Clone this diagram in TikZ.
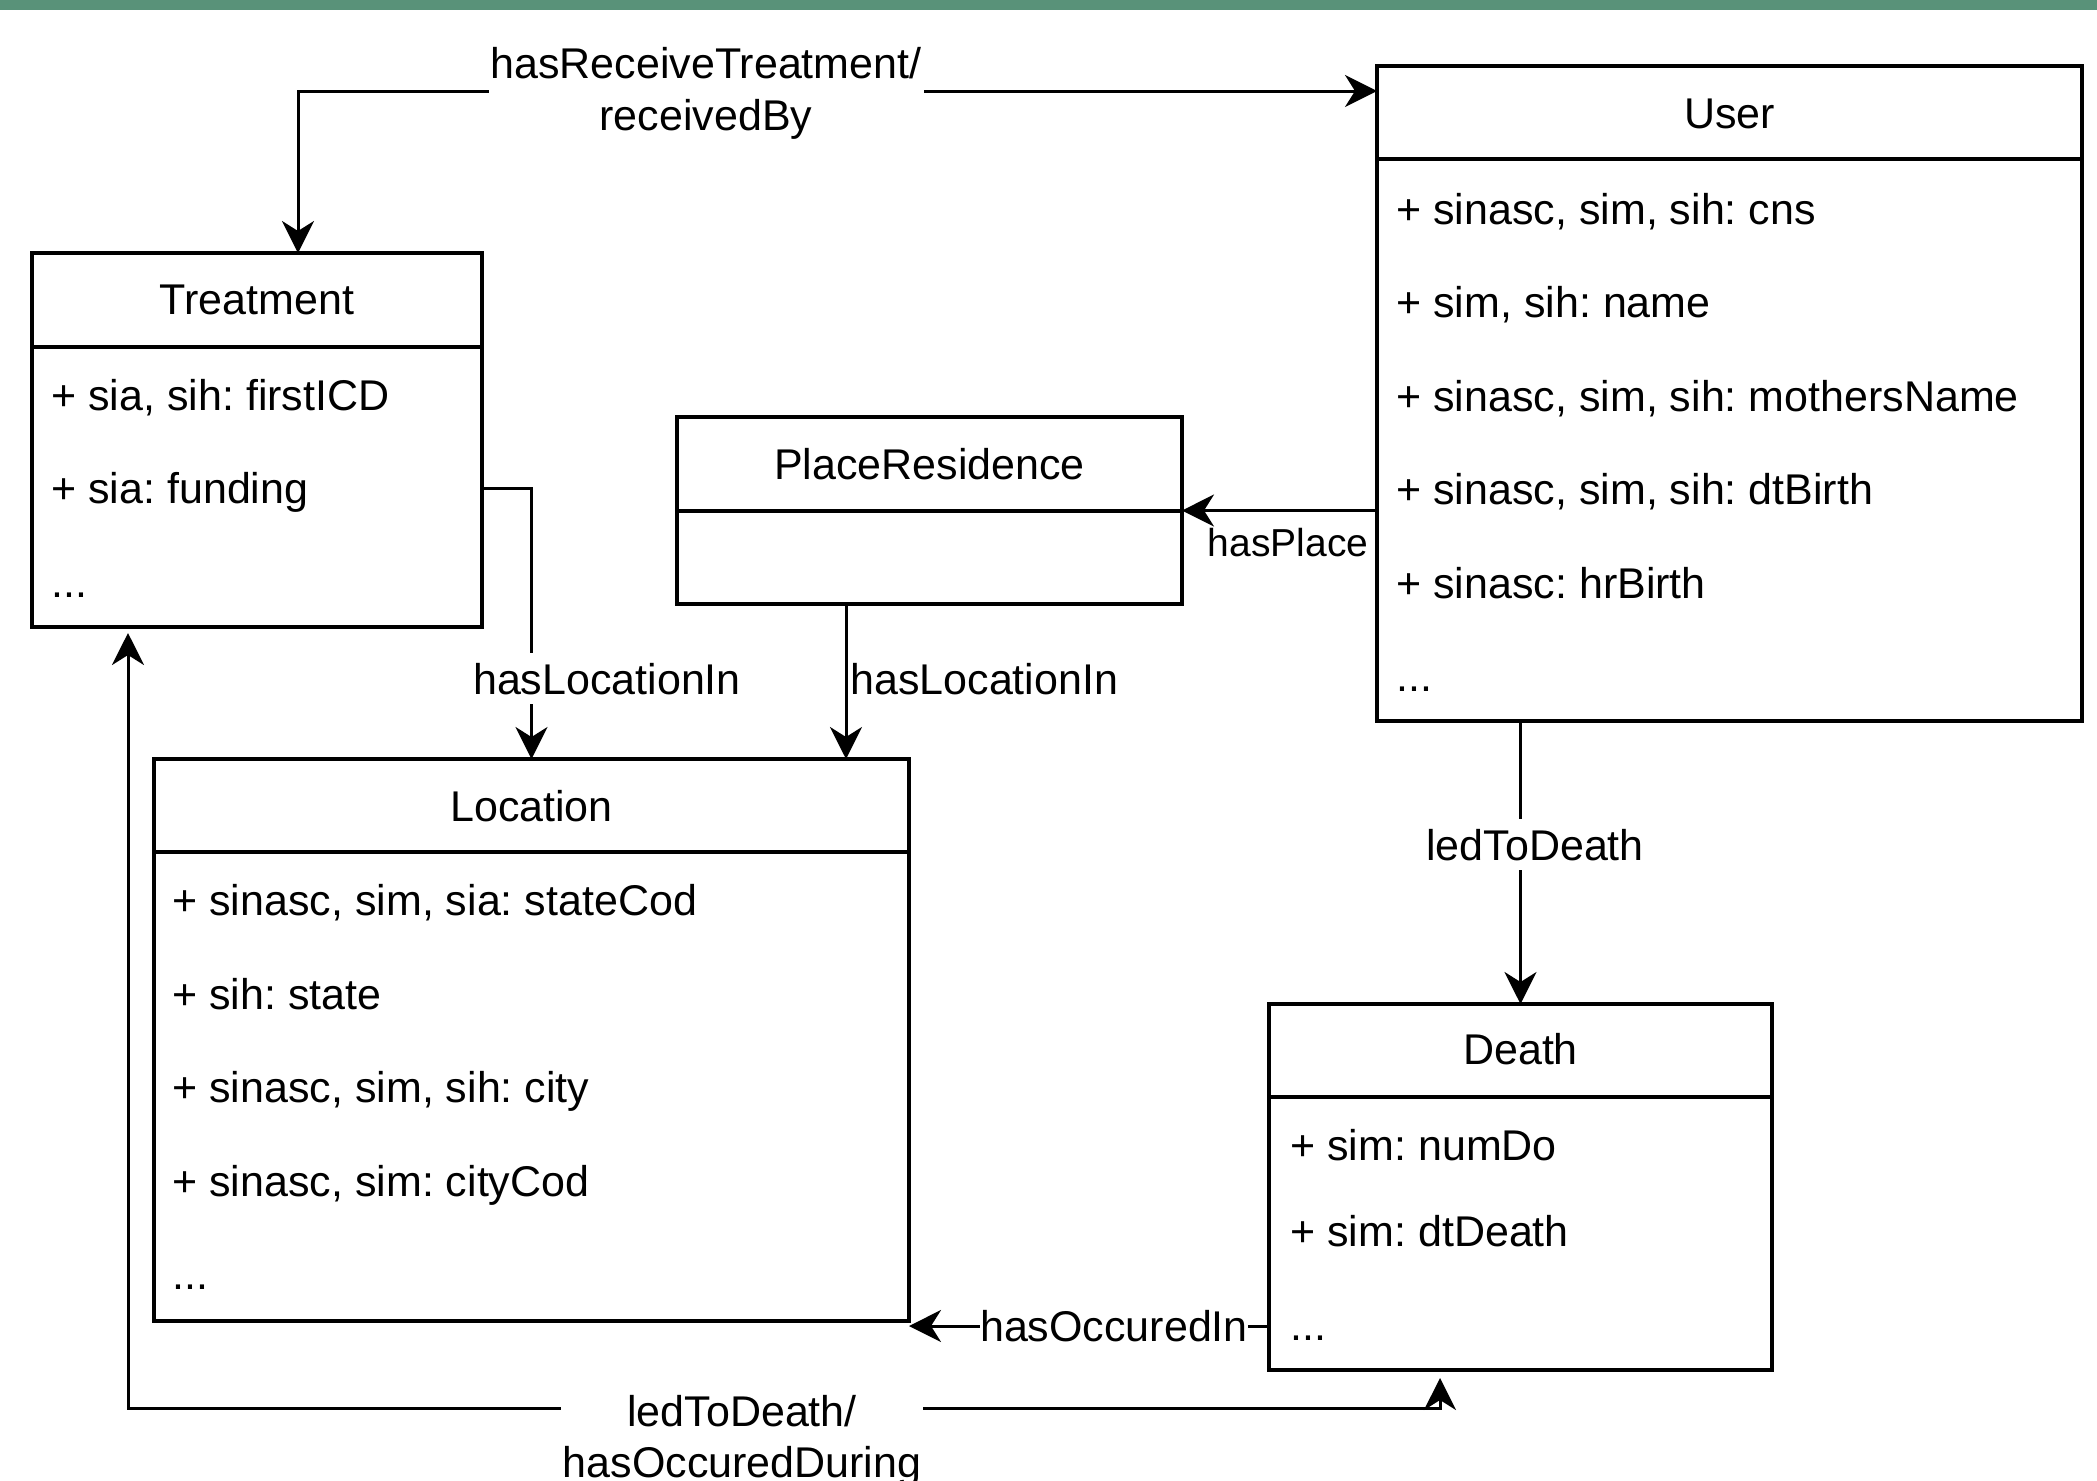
\documentclass[tikz,border=0pt]{standalone}
\usepackage{fontspec}
\setmainfont{Liberation Sans}
\usetikzlibrary{arrows.meta}
\definecolor{bargreen}{RGB}{89,146,121}
\frenchspacing
\begin{document}
\begin{tikzpicture}[x=0.5pt, y=-0.5pt,
  >={Stealth[length=16pt,width=16pt,inset=5pt]},
  every node/.style={font=\fontsize{21.5pt}{25.8pt}\selectfont},
  umlbox/.style={draw, line width=1.6pt, inner sep=0pt, outer sep=0pt},
  divider/.style={line width=1.6pt},
  boxtitle/.style={anchor=base, inner sep=0pt},
  attrib/.style={anchor=base west, inner sep=0pt},
  relation/.style={line width=1.5pt},
  edgelabel/.style={fill=white, inner xsep=1pt, inner ysep=5pt},
  edgetext/.style={inner sep=0pt}
]
\useasboundingbox (0,0) rectangle (2097,1480);
\fill[bargreen] (0,0) rectangle (2097,10);

% ---- classes ----
\node[umlbox, minimum width=225pt, minimum height=187pt] (treat) at (257,440) {};
\draw[divider] (treat.west |- 0,347) -- (treat.east |- 0,347);
\node[boxtitle] (treatT) at (treat.north |- 0,314) {Treatment};
\node[attrib] (t1) at (51,410) {+ sia, sih: firstICD};
\node[attrib] (t2) at (51,503) {+ sia: funding};
\node[attrib] (t3) at (51,597) {...};

\node[umlbox, minimum width=352.5pt, minimum height=327.5pt] (user) at (1729.5,393.5) {};
\draw[divider] (user.west |- 0,159) -- (user.east |- 0,159);
\node[boxtitle] (userT) at (user.north |- 0,128) {User};
\node[attrib] (u1) at (1396,224) {+ sinasc, sim, sih: cns};
\node[attrib] (u2) at (1396,317) {+ sim, sih: name};
\node[attrib] (u3) at (1396,411) {+ sinasc, sim, sih: mothersName};
\node[attrib] (u4) at (1396,504) {+ sinasc, sim, sih: dtBirth};
\node[attrib] (u5) at (1396,598) {+ sinasc: hrBirth};
\node[attrib] (u6) at (1396,691) {...};

\node[umlbox, minimum width=252.5pt, minimum height=93.5pt] (place) at (929.5,510.5) {};
\draw[divider] (place.west |- 0,511) -- (place.east |- 0,511);
\node[boxtitle] (placeT) at (place.north |- 0,479) {PlaceResidence};

\node[umlbox, minimum width=377.5pt, minimum height=281pt] (loc) at (531.5,1040) {};
\draw[divider] (loc.west |- 0,852) -- (loc.east |- 0,852);
\node[boxtitle] (locT) at (loc.north |- 0,821) {Location};
\node[attrib] (l1) at (172,915) {+ sinasc, sim, sia: stateCod};
\node[attrib] (l2) at (172,1009) {+ sih: state};
\node[attrib] (l3) at (172,1102) {+ sinasc, sim, sih: city};
\node[attrib] (l4) at (172,1196) {+ sinasc, sim: cityCod};
\node[attrib] (l5) at (172,1289) {...};

\node[umlbox, minimum width=251.5pt, minimum height=183pt] (death) at (1520.5,1187) {};
\draw[divider] (death.west |- 0,1097) -- (death.east |- 0,1097);
\node[boxtitle] (deathT) at (death.north |- 0,1064) {Death};
\node[attrib] (d1) at (1290,1160) {+ sim: numDo};
\node[attrib] (d2) at (1290,1246) {+ sim: dtDeath};
\node[attrib] (d3) at (1290,1340) {...};

% ---- bend points of the relations ----
\coordinate (rcv) at (298,91);
\coordinate (tloc) at (531,488);
\coordinate (plr) at (846,700);
\coordinate (occ) at (0,1326);
\coordinate (dur) at (128,1408);
\coordinate (dur2) at (1440,1408);

% ---- relations ----
\draw[relation, <->] (treat.north -| rcv) |- (user.west |- rcv);
\draw[relation, ->] (treat.east |- tloc) -| (loc.north);
\draw[relation, ->] (place.south -| plr) -- (loc.north -| plr);
\draw[relation, ->] (user.west |- place.east) -- (place.east);
\draw[relation, ->] (user.south -| death.north) -- (death.north);
\draw[relation, ->] (death.west |- occ) -- (loc.east |- occ);
\draw[relation, <->, shorten <=3pt, shorten >=4pt]
  (treat.south -| dur) |- (dur2) -- (death.south -| dur2);

% ---- relation labels ----
\node[edgelabel, align=center] (lbRcv) at (706,93.5) {hasReceiveTreatment/\\receivedBy};
\node[edgelabel, anchor=base] (lbTloc) at (607,694) {hasLocationIn};
\node[edgetext, anchor=base west] (lbPloc) at (850,694) {hasLocationIn};
\node[edgetext, anchor=base, font=\fontsize{19.5pt}{23.4pt}\selectfont] (lbPlace) at (1288,556) {hasPlace};
\node[edgelabel, anchor=base] (lbLed) at (1535,860) {ledToDeath};
\node[edgelabel, anchor=base, inner xsep=0pt] (lbOcc) at (1114,1341) {hasOccuredIn};
\node[edgelabel, align=center] (lbDur) at (742,1441) {ledToDeath/\\hasOccuredDuring};
\end{tikzpicture}
\end{document}
